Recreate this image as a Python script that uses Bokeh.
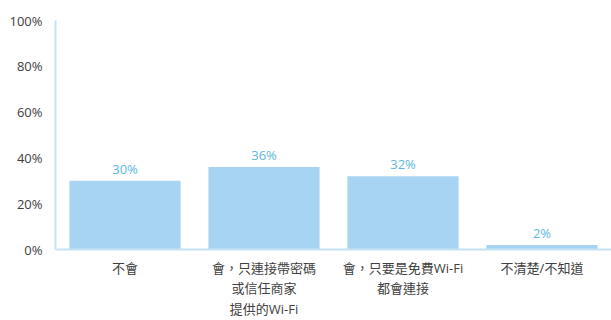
from bokeh.plotting import figure
from bokeh.models import ColumnDataSource, FixedTicker, Range1d, FactorRange
from bokeh.core.properties import value
from bokeh.embed import file_html
from bokeh.resources import INLINE

categories = ["不會", "會，只連接帶密碼\n或信任商家\n提供的Wi-Fi", "會，只要是免費Wi-Fi\n都會連接", "不清楚/不知道"]
values = [0.30, 0.36, 0.32, 0.02]
value_labels = ["30%", "36%", "32%", "2%"]
y_ticks = [0, 0.2, 0.4, 0.6, 0.8, 1.0]
y_tick_labels = ["0%", "20%", "40%", "60%", "80%", "100%"]

FONT = "Open Sans, Noto Sans CJK TC"

src = ColumnDataSource(dict(cat=categories, val=values, lab=value_labels))

p = figure(width=611, height=320, x_range=FactorRange(*categories, range_padding=0),
           y_range=Range1d(0, 1), output_backend="svg", toolbar_location=None,
           min_border_left=55, min_border_right=0, min_border_top=20, min_border_bottom=0)
p.outline_line_color = None
p.background_fill_color = "white"
p.border_fill_color = "white"
p.xgrid.grid_line_color = None
p.ygrid.grid_line_color = None

p.vbar(x="cat", top="val", width=0.8, source=src, fill_color="#a6d4f2", line_color=None)
p.text(x="cat", y="val", text="lab", source=src, text_align="center", text_baseline="bottom",
       y_offset=-3, text_color="#5bb8db", text_font_size="13px", text_font=value(FONT))

p.yaxis.ticker = FixedTicker(ticks=y_ticks)
p.yaxis.major_label_overrides = {t: l for t, l in zip(y_ticks, y_tick_labels)}
for ax in (p.xaxis[0], p.yaxis[0]):
    ax.axis_line_color = "#c5e1f4"
    ax.axis_line_width = 2
    ax.major_tick_line_color = None
    ax.minor_tick_line_color = None
    ax.major_label_text_color = "#404040"
    ax.major_label_text_font_size = "13px"
    ax.major_label_text_font = FONT
p.xaxis.major_label_standoff = 3
p.yaxis.major_label_standoff = 7
p.xaxis.major_label_text_line_height = 1.15

open("out.html", "w").write(file_html(p, INLINE))
